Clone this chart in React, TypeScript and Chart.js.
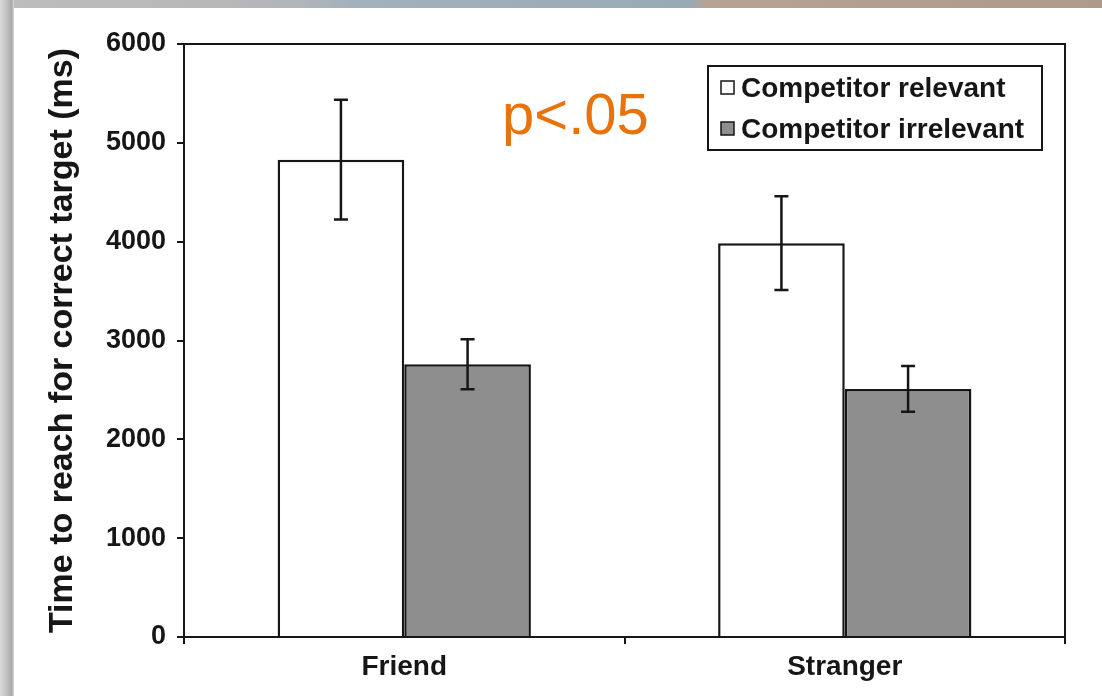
import React, { useEffect, useRef } from "react";
import { Chart, registerables } from "chart.js";

Chart.register(...registerables);

const categories = ["Friend", "Stranger"];
const seriesLabels = ["Competitor relevant", "Competitor irrelevant"];
const relevantMeans = [4830, 3985];
const relevantErrors = [605, 475];
const irrelevantMeans = [2760, 2510];
const irrelevantErrors = [253, 232];
const yAxisTitle = "Time to reach for correct target (ms)";
const annotationText = "p<.05";

const FONT = "'Liberation Sans', Arial, Helvetica, sans-serif";
const INK = "#161616";
const barFills = ["#ffffff", "#8e8e8e"];
const errorsBySeries = [relevantErrors, irrelevantErrors];

const errorBarPlugin = {
  id: "errorBars",
  afterDatasetsDraw(chart: any) {
    const { ctx } = chart;
    const y = chart.scales.y;
    chart.data.datasets.forEach((ds: any, i: number) => {
      const meta = chart.getDatasetMeta(i);
      const errs = errorsBySeries[i];
      meta.data.forEach((bar: any, j: number) => {
        const v = ds.data[j];
        const e = errs[j];
        const yHi = y.getPixelForValue(v + e);
        const yLo = y.getPixelForValue(v - e);
        const x = bar.x;
        ctx.save();
        ctx.strokeStyle = INK;
        ctx.lineWidth = 2.5;
        ctx.beginPath();
        ctx.moveTo(x, yHi);
        ctx.lineTo(x, yLo);
        ctx.moveTo(x - 7, yHi);
        ctx.lineTo(x + 7, yHi);
        ctx.moveTo(x - 7, yLo);
        ctx.lineTo(x + 7, yLo);
        ctx.stroke();
        ctx.restore();
      });
    });
  },
};

const framePlugin = {
  id: "frameBox",
  afterDraw(chart: any) {
    const { ctx, chartArea } = chart;
    const { left, right, top, bottom } = chartArea;
    ctx.save();
    ctx.strokeStyle = INK;
    ctx.lineWidth = 2;
    ctx.beginPath();
    ctx.moveTo(left, top);
    ctx.lineTo(right, top);
    ctx.lineTo(right, bottom);
    ctx.stroke();
    ctx.restore();
  },
};

const legendPlugin = {
  id: "boxLegend",
  afterDraw(chart: any) {
    const { ctx, chartArea } = chart;
    const bx = chartArea.right - 357;
    const by = chartArea.top + 22;
    const bw = 334;
    const bh = 84;
    ctx.save();
    ctx.fillStyle = "#ffffff";
    ctx.fillRect(bx, by, bw, bh);
    ctx.strokeStyle = INK;
    ctx.lineWidth = 2;
    ctx.strokeRect(bx, by, bw, bh);
    ctx.font = `bold 28px ${FONT}`;
    ctx.textBaseline = "alphabetic";
    ctx.textAlign = "left";
    chart.data.datasets.forEach((ds: any, i: number) => {
      const rowBase = by + 31 + i * 41;
      const mx = bx + 13;
      const my = rowBase - 16;
      ctx.fillStyle = ds.backgroundColor;
      ctx.fillRect(mx, my, 13, 13);
      ctx.lineWidth = 1.5;
      ctx.strokeStyle = INK;
      ctx.strokeRect(mx, my, 13, 13);
      ctx.fillStyle = INK;
      ctx.fillText(ds.label, bx + 33, rowBase);
    });
    ctx.restore();
  },
};

const annotationPlugin = {
  id: "pValue",
  afterDraw(chart: any) {
    const { ctx, chartArea } = chart;
    ctx.save();
    ctx.font = `58px ${FONT}`;
    ctx.fillStyle = "#E8720C";
    ctx.textBaseline = "alphabetic";
    ctx.textAlign = "left";
    ctx.fillText(annotationText, chartArea.left + 318, chartArea.top + 90);
    ctx.restore();
  },
};

function BarChart() {
  const ref = useRef<HTMLCanvasElement | null>(null);
  useEffect(() => {
    if (!ref.current) return;
    const chart = new Chart(ref.current, {
      type: "bar",
      data: {
        labels: categories,
        datasets: [
          {
            label: seriesLabels[0],
            data: relevantMeans,
            backgroundColor: barFills[0],
            borderColor: INK,
            borderWidth: 2.5,
            categoryPercentage: 0.575,
            barPercentage: 1.0,
          },
          {
            label: seriesLabels[1],
            data: irrelevantMeans,
            backgroundColor: barFills[1],
            borderColor: INK,
            borderWidth: 2.5,
            categoryPercentage: 0.575,
            barPercentage: 1.0,
          },
        ],
      },
      options: {
        animation: false,
        responsive: false,
        devicePixelRatio: 1,
        layout: { padding: { top: 44, right: 37, bottom: 0, left: 0 } },
        plugins: {
          legend: { display: false },
          tooltip: { enabled: false },
        },
        scales: {
          x: {
            ticks: {
              font: { family: FONT, size: 28, weight: "bold" },
              color: INK,
              padding: 6,
            },
            grid: {
              display: true,
              drawOnChartArea: false,
              drawTicks: true,
              tickLength: 7,
              color: INK,
              lineWidth: 2,
              offset: true,
            },
            border: { display: true, color: INK, width: 2 },
            afterFit: (s: any) => {
              s.height = 59;
            },
          },
          y: {
            min: 0,
            max: 6000,
            ticks: {
              stepSize: 1000,
              font: { family: FONT, size: 27, weight: "bold" },
              color: INK,
              padding: 11,
              callback: (v: any) => String(v),
            },
            grid: {
              display: true,
              drawOnChartArea: false,
              drawTicks: true,
              tickLength: 7,
              color: INK,
              lineWidth: 2,
            },
            border: { display: true, color: INK, width: 2 },
            title: {
              display: true,
              text: yAxisTitle,
              font: { family: FONT, size: 34, weight: "bold" },
              color: INK,
              padding: { top: 42, bottom: 0 },
            },
            afterFit: (s: any) => {
              s.width = 184;
            },
          },
        },
      },
      plugins: [errorBarPlugin, framePlugin, legendPlugin, annotationPlugin],
    });
    return () => chart.destroy();
  }, []);
  return (
    <canvas
      ref={ref}
      width={1102}
      height={696}
      style={{ position: "absolute", left: 0, top: 0, width: 1102, height: 696, display: "block" }}
    />
  );
}

export default function App() {
  return (
    <div
      style={{
        position: "fixed",
        left: 0,
        top: 0,
        width: 1102,
        height: 696,
        background: "#ffffff",
        overflow: "hidden",
      }}
    >
      <div
        style={{
          position: "absolute",
          left: 0,
          top: 0,
          width: 1102,
          height: 8,
          background:
            "linear-gradient(to right, #bdbdbd 0px, #b3b6b8 290px, #a2b2bd 350px, #98aab6 690px, #b8a392 706px, #ae9a8a 1102px)",
        }}
      />
      <div
        style={{
          position: "absolute",
          left: 0,
          top: 0,
          width: 14,
          height: 696,
          background: "linear-gradient(to right, #dadada 0%, #c2c2c2 45%, #a9a9a9 85%, #dedede 100%)",
        }}
      />
      <BarChart />
    </div>
  );
}
